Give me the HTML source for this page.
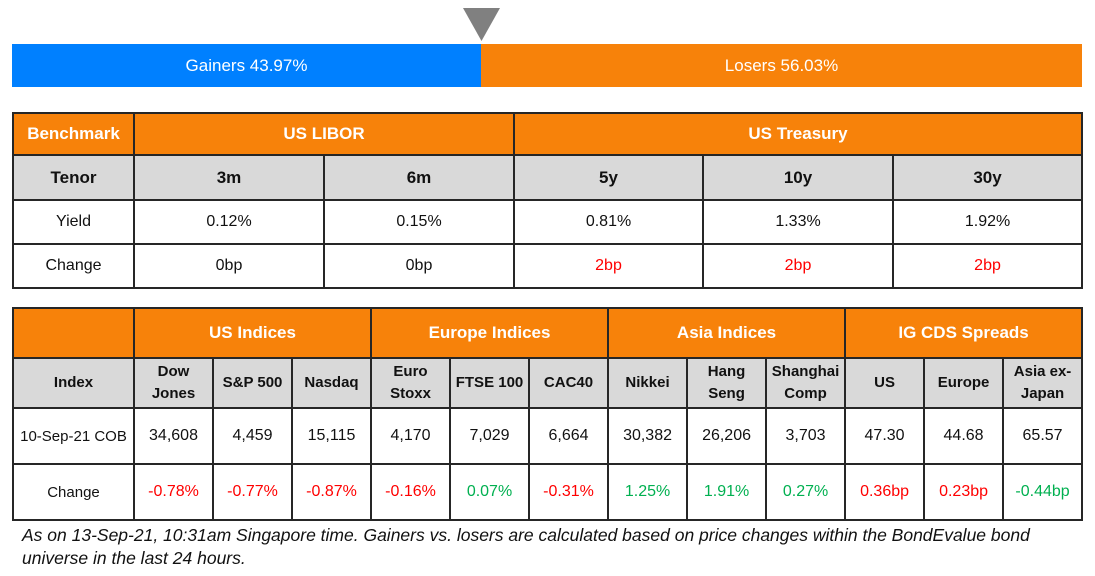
<!DOCTYPE html>
<html><head><meta charset="utf-8"><style>
body{margin:0;width:1095px;height:576px;background:#fff;font-family:"Liberation Sans",sans-serif;position:relative;overflow:hidden}
.bar{position:absolute;top:44px;height:43px;color:#fff;font-size:17px;line-height:43px;text-align:center}
table{position:absolute;left:12px;width:1070px;border-collapse:collapse;table-layout:fixed}
td{border:2px solid #262626;text-align:center;font-size:16px;color:#111;padding:0}
.h td,td.h{background:#f7820a;color:#fff;font-weight:bold;font-size:17px}
.g td{background:#d9d9d9;font-weight:bold;font-size:15px;line-height:22px}
.r{color:#f00!important}.gr{color:#00b050!important}
.note{position:absolute;left:22px;top:524px;font-style:italic;font-size:17.5px;line-height:23px;color:#111;width:1040px}
</style></head><body>
<svg style="position:absolute;left:463px;top:8px" width="38" height="33"><polygon points="0,0 37,0 18.5,33" fill="#808080"/></svg>
<div class="bar" style="left:12px;width:469px;background:#0080ff">Gainers 43.97%</div>
<div class="bar" style="left:481px;width:601px;background:#f7820a">Losers 56.03%</div>
<table style="top:112px;width:1069px">
<colgroup><col style="width:121px"><col style="width:190px"><col style="width:190px"><col style="width:189px"><col style="width:190px"><col style="width:189px"></colgroup>
<tr class="h" style="height:42px"><td>Benchmark</td><td colspan="2">US LIBOR</td><td colspan="3">US Treasury</td></tr>
<tr class="g" style="height:45px"><td style="font-size:17px">Tenor</td><td style="font-size:17px">3m</td><td style="font-size:17px">6m</td><td style="font-size:17px">5y</td><td style="font-size:17px">10y</td><td style="font-size:17px">30y</td></tr>
<tr style="height:44px"><td>Yield</td><td>0.12%</td><td>0.15%</td><td>0.81%</td><td>1.33%</td><td>1.92%</td></tr>
<tr style="height:44px"><td>Change</td><td>0bp</td><td>0bp</td><td class="r">2bp</td><td class="r">2bp</td><td class="r">2bp</td></tr>
</table>
<table style="top:307px">
<colgroup><col style="width:121px"><col span="12" style="width:79px"></colgroup>
<tr class="h" style="height:50px"><td></td><td colspan="3">US Indices</td><td colspan="3">Europe Indices</td><td colspan="3">Asia Indices</td><td colspan="3">IG CDS Spreads</td></tr>
<tr class="g" style="height:50px"><td>Index</td><td>Dow<br>Jones</td><td>S&amp;P 500</td><td>Nasdaq</td><td>Euro<br>Stoxx</td><td>FTSE 100</td><td>CAC40</td><td>Nikkei</td><td>Hang<br>Seng</td><td>Shanghai<br>Comp</td><td>US</td><td>Europe</td><td>Asia ex-<br>Japan</td></tr>
<tr style="height:56px;font-size:15px"><td style="font-size:15px">10-Sep-21 COB</td><td>34,608</td><td>4,459</td><td>15,115</td><td>4,170</td><td>7,029</td><td>6,664</td><td>30,382</td><td>26,206</td><td>3,703</td><td>47.30</td><td>44.68</td><td>65.57</td></tr>
<tr style="height:56px"><td style="font-size:15px">Change</td><td class="r">-0.78%</td><td class="r">-0.77%</td><td class="r">-0.87%</td><td class="r">-0.16%</td><td class="gr">0.07%</td><td class="r">-0.31%</td><td class="gr">1.25%</td><td class="gr">1.91%</td><td class="gr">0.27%</td><td class="r">0.36bp</td><td class="r">0.23bp</td><td class="gr">-0.44bp</td></tr>
</table>
<div class="note">As on 13-Sep-21, 10:31am Singapore time. Gainers vs. losers are calculated based on price changes within the BondEvalue bond universe in the last 24 hours.</div>
</body></html>
